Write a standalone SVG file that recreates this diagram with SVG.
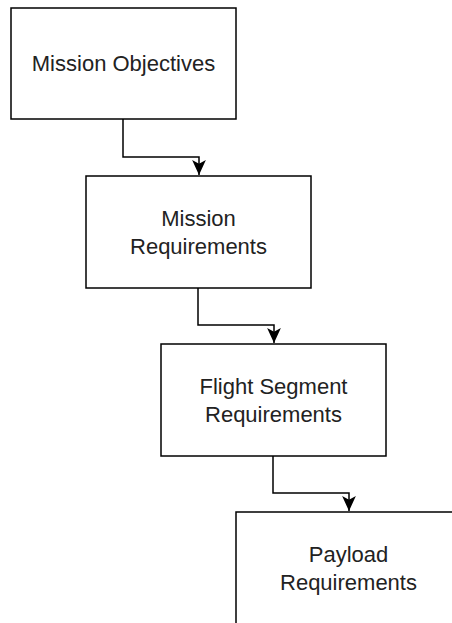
<svg xmlns="http://www.w3.org/2000/svg" width="452" height="623" viewBox="0 0 452 623">
<style>
.box{fill:#fff;stroke:#000;stroke-width:1.5}
.lbl{font-family:"Liberation Sans",Arial,sans-serif;font-size:22px;fill:#222;text-anchor:middle}
.edge{fill:none;stroke:#000;stroke-width:1.5}
</style>
<defs>
<marker id="arr" viewBox="0 0 12 12" refX="12" refY="6" markerWidth="15" markerHeight="15" markerUnits="userSpaceOnUse" orient="auto">
<path d="M0,0.5 L12,6 L0,11.5 L3,6 Z" fill="#000"/>
</marker>
</defs>
<rect width="452" height="623" fill="#fff"/>
<g id="connectors">
<path class="edge" d="M123,119 V157 H199 V175" marker-end="url(#arr)"/>
<path class="edge" d="M198,288 V325 H274 V343" marker-end="url(#arr)"/>
<path class="edge" d="M273,456 V493 H349 V511" marker-end="url(#arr)"/>
</g>
<g id="n1">
<rect class="box" x="11" y="8" width="225" height="111"/>
<text class="lbl" x="123.5" y="71">Mission Objectives</text>
</g>
<g id="n2">
<rect class="box" x="86" y="176" width="225" height="112"/>
<text class="lbl" x="198.5" y="226">Mission</text>
<text class="lbl" x="198.5" y="254">Requirements</text>
</g>
<g id="n3">
<rect class="box" x="161" y="344" width="225" height="112"/>
<text class="lbl" x="273.5" y="394">Flight Segment</text>
<text class="lbl" x="273.5" y="422">Requirements</text>
</g>
<g id="n4">
<rect class="box" x="236" y="512" width="225" height="112"/>
<text class="lbl" x="348.5" y="562">Payload</text>
<text class="lbl" x="348.5" y="590">Requirements</text>
</g>
</svg>
